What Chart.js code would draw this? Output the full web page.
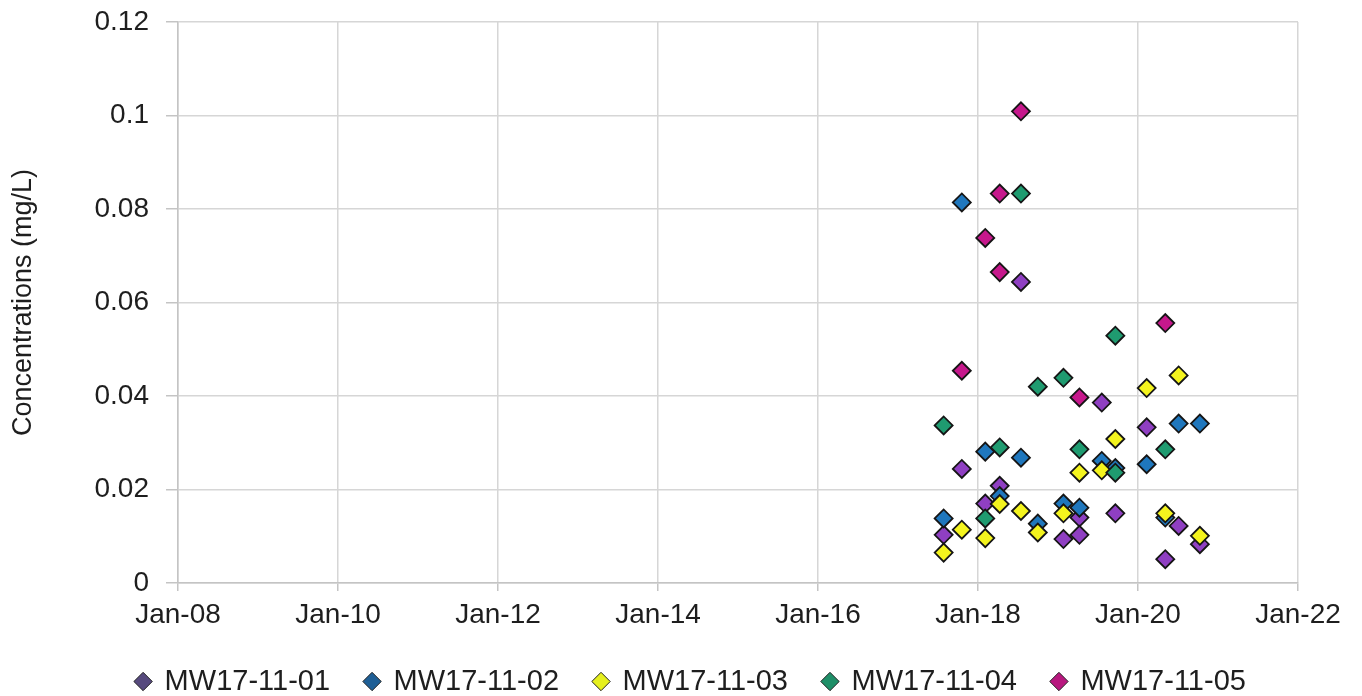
<!DOCTYPE html>
<html>
<head>
<meta charset="utf-8">
<script src="https://cdn.jsdelivr.net/npm/chart.js@4.4.1/dist/chart.umd.min.js"></script>
<style>
    html, body { margin: 0; padding: 0; background: #ffffff; }
    #wrap { width: 1362px; height: 696px; position: relative; }
</style>
</head>
<body>
<div id="wrap"><canvas id="scatter-chart"></canvas></div>
<script>
// DATA
// ---------------------------------------------------
const seriesNames = [ 'MW17-11-01', 'MW17-11-02', 'MW17-11-03', 'MW17-11-04', 'MW17-11-05' ];

const dates01 = [ '2017-07-28', '2017-10-19', '2018-02-03', '2018-04-10', '2018-07-16', '2019-01-26', '2019-04-09', '2019-04-09', '2019-07-20', '2019-09-20', '2020-02-10', '2020-05-05', '2020-07-05', '2020-10-10' ];
const conc01 = [ 0.0103, 0.0244, 0.0170, 0.0208, 0.0644, 0.0094, 0.0140, 0.0103, 0.0386, 0.0149, 0.0333, 0.0051, 0.0122, 0.0083 ];

const dates02 = [ '2017-07-28', '2017-10-19', '2018-02-03', '2018-04-10', '2018-07-16', '2018-10-01', '2019-01-26', '2019-04-09', '2019-07-20', '2019-09-20', '2020-02-10', '2020-05-05', '2020-07-05', '2020-10-10' ];
const conc02 = [ 0.0138, 0.0814, 0.0281, 0.0186, 0.0268, 0.0127, 0.0170, 0.0161, 0.0261, 0.0246, 0.0254, 0.0140, 0.0341, 0.0341 ];

const dates03 = [ '2017-07-28', '2017-10-19', '2018-02-03', '2018-04-10', '2018-07-16', '2018-10-01', '2019-01-26', '2019-04-09', '2019-07-20', '2019-09-20', '2020-02-10', '2020-05-05', '2020-07-05', '2020-10-10' ];
const conc03 = [ 0.0065, 0.0114, 0.0096, 0.0169, 0.0154, 0.0108, 0.0149, 0.0236, 0.0241, 0.0308, 0.0417, 0.0149, 0.0444, 0.0101 ];

const dates04 = [ '2017-07-28', '2018-02-03', '2018-04-10', '2018-07-16', '2018-10-01', '2019-01-26', '2019-04-09', '2019-09-20', '2019-09-20', '2020-05-05' ];
const conc04 = [ 0.0337, 0.0138, 0.0290, 0.0833, 0.0420, 0.0439, 0.0286, 0.0529, 0.0236, 0.0286 ];

const dates05 = [ '2017-10-19', '2018-02-03', '2018-04-10', '2018-04-10', '2018-07-16', '2019-04-09', '2020-05-05' ];
const conc05 = [ 0.0454, 0.0738, 0.0833, 0.0665, 0.1009, 0.0397, 0.0556 ];

const tickYears = [ 2008, 2010, 2012, 2014, 2016, 2018, 2020, 2022 ];
const yTicks = [ 0, 0.02, 0.04, 0.06, 0.08, 0.1, 0.12 ];
const yTickLabels = [ '0', '0.02', '0.04', '0.06', '0.08', '0.1', '0.12' ];

// STYLE
// ---------------------------------------------------
const pointColors = [ '#8f3fc2', '#1f77bd', '#f4f41e', '#1f9b70', '#c6188c' ];
const legendColors = [ '#574a7e', '#1f5f96', '#e6f01e', '#1f8f68', '#b8187f' ];
const FONT = 'Liberation Sans, Arial, sans-serif';
const TEXT = '#1e1e1e';
const GRID = '#d6d6d6';

Chart.defaults.font.family = FONT;
Chart.defaults.color = TEXT;

function toPoints( dates, values ) {
    return dates.map( function ( d, i ) {
        return { x: Date.parse( d + 'T00:00:00Z' ), y: values[ i ] };
    });
}

const allDates = [ dates01, dates02, dates03, dates04, dates05 ];
const allConc = [ conc01, conc02, conc03, conc04, conc05 ];

// later series are drawn on top, as in the original
const datasets = seriesNames.map( function ( name, i ) {
    return {
        label: name,
        data: toPoints( allDates[ i ], allConc[ i ] ),
        pointStyle: 'rectRot',
        pointRadius: 9,
        pointHoverRadius: 9,
        borderWidth: 1.8,
        borderColor: '#151515',
        backgroundColor: pointColors[ i ],
        showLine: false,
        order: seriesNames.length - i
    };
});

// CHART
// ---------------------------------------------------
// plot area: x 178..1298, y 22..582
const scatterChart = new Chart( document.querySelector( '#scatter-chart' ), {
    type: 'scatter',
    data: { datasets: datasets },
    options: {
        responsive: true,
        maintainAspectRatio: false,
        animation: false,
        events: [],
        layout: {
            padding: { top: 22, right: 22, bottom: -10, left: 42 }
        },
        plugins: {
            tooltip: { enabled: false },
            legend: {
                position: 'bottom',
                labels: {
                    usePointStyle: true,
                    boxWidth: 14,
                    boxHeight: 13,
                    padding: 35,
                    font: { size: 29 },
                    color: TEXT,
                    sort: function ( a, b ) {
                        return a.datasetIndex - b.datasetIndex;
                    },
                    generateLabels: function ( chart ) {
                        const items = Chart.defaults.plugins.legend.labels.generateLabels( chart );
                        items.forEach( function ( item ) {
                            item.fillStyle = legendColors[ item.datasetIndex ];
                            item.lineWidth = 1;
                            item.strokeStyle = '#222222';
                        });
                        return items;
                    }
                }
            }
        },
        scales: {
            x: {
                type: 'linear',
                min: Date.UTC( tickYears[ 0 ], 0, 1 ),
                max: Date.UTC( tickYears[ tickYears.length - 1 ], 0, 1 ),
                afterBuildTicks: function ( scale ) {
                    scale.ticks = tickYears.map( function ( y ) {
                        return { value: Date.UTC( y, 0, 1 ) };
                    });
                },
                afterFit: function ( scale ) {
                    scale.height = 49;
                    scale.paddingRight = 64;
                },
                ticks: {
                    autoSkip: false,
                    maxRotation: 0,
                    padding: 7,
                    font: { size: 28 },
                    callback: function ( value ) {
                        return 'Jan-' + String( new Date( value ).getUTCFullYear() ).slice( 2 );
                    }
                },
                grid: { color: GRID, lineWidth: 1.5, tickLength: 8, tickColor: '#c4c4c4' },
                border: { color: '#c4c4c4', width: 1.5 }
            },
            y: {
                min: 0,
                max: 0.12,
                afterBuildTicks: function ( scale ) {
                    scale.ticks = yTicks.map( function ( v ) {
                        return { value: v };
                    });
                },
                afterFit: function ( scale ) {
                    scale.width = 136;
                    scale.paddingTop = 0;
                    scale.paddingBottom = 0;
                },
                ticks: {
                    padding: 17,
                    font: { size: 28 },
                    callback: function ( value ) {
                        const idx = yTicks.indexOf( value );
                        return idx >= 0 ? yTickLabels[ idx ] : '';
                    }
                },
                title: {
                    display: true,
                    text: 'Concentrations (mg/L)',
                    font: { size: 27 },
                    color: TEXT,
                    padding: { top: -35, bottom: 0 }
                },
                grid: { color: GRID, lineWidth: 1.5, tickLength: 12, tickColor: '#c4c4c4' },
                border: { color: '#c4c4c4', width: 1.5 }
            }
        }
    }
});
</script>
</body>
</html>
